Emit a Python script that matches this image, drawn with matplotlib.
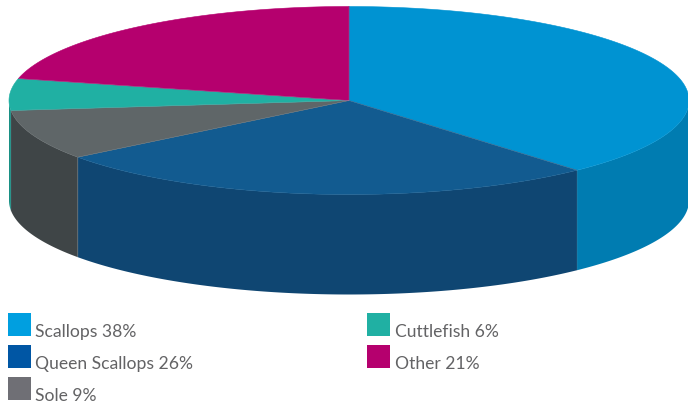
import matplotlib
matplotlib.use('Agg')
import matplotlib.pyplot as plt
import numpy as np

# Data
categories = ['Scallops', 'Queen Scallops', 'Sole', 'Cuttlefish', 'Other']
labels = [38, 26, 9, 6, 21]
# slice sizes as drawn in the picture (slightly off the rounded labels)
slices = [38.3, 26.4, 8.6, 5.45, 21.25]
top_colors = ['#0093d2', '#125b90', '#5f6668', '#20b0a3', '#b5006e']
side_colors = ['#007cb1', '#0f4672', '#3f4547', '#189084', '#8f0058']
swatch_colors = ['#009fe0', '#0056a4', '#6f6f75', '#20b0a3', '#b5006e']

plt.rcParams['font.family'] = ['Lato', 'DejaVu Sans']

W, H = 688, 406
fig = plt.figure(figsize=(W / 100, H / 100), dpi=100)
ax = fig.add_axes([0, 0, 1, 1])

# Pie geometry in pixels
cx, cy = 349, 101.5
rx, ry = 340, 94
depth = 100

edges = np.cumsum([0] + slices) / sum(slices) * 2 * np.pi


def rim(a):
    return cx + rx * np.sin(a), cy - ry * np.cos(a)


# Side walls: only the part of each slice facing the viewer (90-270 deg)
for i in range(len(slices)):
    a0 = max(edges[i], np.pi / 2)
    a1 = min(edges[i + 1], 3 * np.pi / 2)
    if a1 <= a0:
        continue
    a = np.linspace(a0, a1, 200)
    x, y = rim(a)
    ax.fill(np.r_[x, x[::-1]], np.r_[y, y[::-1] + depth], color=side_colors[i], lw=0)

# Top face
for i in range(len(slices)):
    a = np.linspace(edges[i], edges[i + 1], 200)
    x, y = rim(a)
    ax.fill(np.r_[cx, x], np.r_[cy, y], color=top_colors[i], lw=0.4, ec=top_colors[i])

# Pale seams
for i in range(len(slices)):
    x, y = rim(edges[i])
    ax.plot([cx, x], [cy, y], color='#9aa6ad', lw=0.3, alpha=0.5)
    if np.pi / 2 < edges[i] < 3 * np.pi / 2:
        ax.plot([x, x], [y, y + depth], color='#6f8796', lw=0.3, alpha=0.5)

# Legend
swatch_x = [8, 8, 8, 367, 367]
swatch_y = [314, 346, 378, 314, 346]
text_x = [35, 35, 35, 395, 395]
for i, name in enumerate(categories):
    ax.add_patch(plt.Rectangle((swatch_x[i], swatch_y[i]), 23, 23, color=swatch_colors[i], lw=0))
    ax.text(text_x[i], swatch_y[i] + 18, f'{name} {labels[i]}%', fontsize=12.6,
            color='#636365', va='center', ha='left')

ax.set_xlim(0, W)
ax.set_ylim(H, 0)
ax.axis('off')

fig.savefig('out.png', dpi=100)
